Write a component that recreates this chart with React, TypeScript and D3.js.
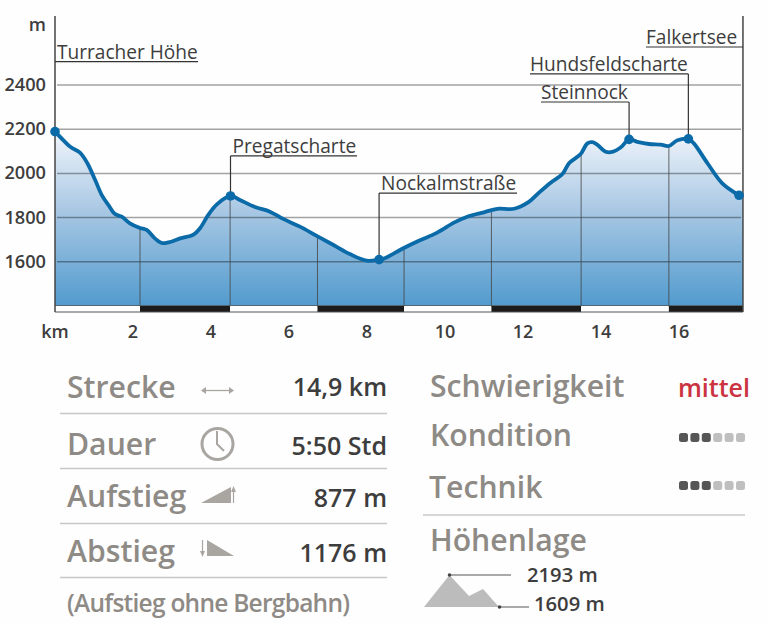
import React from "react";
import * as d3 from "d3";

const width = 767;
const height = 624;

// km along the route
const distKm = [0, 0.21, 0.4, 0.64, 0.83, 1.03, 1.2, 1.37, 1.54, 1.71, 1.92, 2.18, 2.35, 2.56, 2.74, 2.91, 3.21, 3.55, 3.72, 3.93, 4.15, 4.5, 4.74, 5.13, 5.51, 5.85, 6.28, 6.71, 7.14, 7.56, 7.99, 8.31, 8.44, 8.93, 9.33, 9.8, 10.23, 10.57, 11.0, 11.34, 11.77, 12.15, 12.41, 12.71, 13.01, 13.18, 13.48, 13.65, 13.78, 13.91, 14.12, 14.29, 14.51, 14.72, 14.93, 15.23, 15.53, 15.74, 15.96, 16.24, 16.38, 16.73, 17.11, 17.54];
// elevation in m
const elevation = [2189, 2151, 2119, 2094, 2046, 1970, 1902, 1857, 1816, 1804, 1774, 1753, 1744, 1706, 1685, 1688, 1706, 1723, 1752, 1812, 1860, 1898, 1880, 1848, 1827, 1794, 1759, 1717, 1676, 1635, 1605, 1610, 1615, 1661, 1695, 1732, 1777, 1804, 1824, 1840, 1840, 1871, 1913, 1958, 1997, 2046, 2088, 2136, 2141, 2129, 2098, 2097, 2118, 2154, 2143, 2133, 2130, 2124, 2150, 2156, 2136, 2046, 1955, 1901];

const yTicks = [2400, 2200, 2000, 1800, 1600];
const xTicks = [2, 4, 6, 8, 10, 12, 14, 16];
// boundaries of the alternating distance bar
const segmentKm = [0, 2.18, 4.49, 6.73, 8.95, 11.19, 13.49, 15.74, 17.64];

const pointNames = ["Turracher Höhe", "Pregatscharte", "Nockalmstraße", "Steinnock", "Hundsfeldscharte", "Falkertsee"];
const pointKm = [0, 4.5, 8.31, 14.72, 16.24, 17.54];
const pointM = [2189, 1898, 1610, 2154, 2156, 1901];
const labelLevel = [2506, 2079, 1911, 2323, 2450, 2572];

const statNames = ["Strecke", "Dauer", "Aufstieg", "Abstieg"];
const statValues = ["14,9 km", "5:50 Std", "877 m", "1176 m"];

const ratingNames = ["Kondition", "Technik"];
const ratingValues = [3, 3];
const altitudeValues = ["2193 m", "1609 m"];

const FONT = "'Open Sans', sans-serif";
const GREY = "#8e8a85";
const DARK = "#3d3d3d";
const BLUE = "#0b6aa8";

// elevation at a given km, read between the two nearest profile points
function elevationAt(km: number) {
  const i = d3.bisectLeft(distKm, km);
  const t = (km - distKm[i - 1]) / (distKm[i] - distKm[i - 1]);
  return elevation[i - 1] + t * (elevation[i] - elevation[i - 1]);
}

export default function App() {
  const x = d3.scaleLinear().domain([0, 16]).range([55, 679]);
  const y = d3.scaleLinear().domain([1400, 2400]).range([306, 85]);
  const xEnd = x(17.64);

  const profile = distKm.map((d, i) => [d, elevation[i]] as [number, number]);
  const line = d3
    .line<[number, number]>()
    .x(d => x(d[0]))
    .y(d => y(d[1]))
    .curve(d3.curveCatmullRom.alpha(0.5));
  const area = d3
    .area<[number, number]>()
    .x(d => x(d[0]))
    .y0(y(1400))
    .y1(d => y(d[1]))
    .curve(d3.curveCatmullRom.alpha(0.5));
  const closed: [number, number][] = [...profile, [17.64, 1890]];

  const underline = [
    [x(0), 198],
    [x(4.5), 357],
    [x(8.31), 517],
    [541, x(14.72)],
    [530, x(16.24)],
    [646, xEnd],
  ];

  return (
    <svg width={width} height={height} style={{ position: "absolute", left: 0, top: 0, display: "block" }} fontFamily={FONT}>
      <defs>
        <linearGradient id="fill" x1="0" x2="0" y1="0" y2="1">
          <stop offset="0" stopColor="#f1f5fb" />
          <stop offset="0.45" stopColor="#a9c8e4" />
          <stop offset="1" stopColor="#529bce" />
        </linearGradient>
      </defs>
      <rect width={width} height={height} fill="#fefefe" />

      <path d={area(closed) || ""} fill="url(#fill)" />

      {yTicks.map(t => (
        <g key={t}>
          <line x1={57} x2={741} y1={y(t)} y2={y(t)} stroke="#000" strokeOpacity={0.36} strokeWidth={1.5} />
          <text x={46} y={y(t) + 6} textAnchor="end" fontSize={18.2} fontWeight={600} fill={DARK}>
            {t}
          </text>
        </g>
      ))}
      <text x={46} y={31} textAnchor="end" fontSize={18} fontWeight={600} fill={DARK}>
        m
      </text>

      {segmentKm.slice(1, -1).map(k => (
        <line key={k} x1={x(k)} x2={x(k)} y1={y(elevationAt(k))} y2={y(1400)} stroke="#444" strokeOpacity={0.8} strokeWidth={1} />
      ))}
      <line x1={55} x2={xEnd} y1={y(1400)} y2={y(1400)} stroke="#555" strokeWidth={1.5} />
      {segmentKm.slice(0, -1).map((k, i) => (
        <rect key={k} x={x(k)} width={x(segmentKm[i + 1]) - x(k)} y={306} height={6} fill={i % 2 ? "#1b1b1b" : "#fff"} />
      ))}
      <line x1={55} x2={xEnd} y1={312} y2={312} stroke="#555" strokeWidth={1} />
      <line x1={55} x2={55} y1={16} y2={312} stroke="#444" strokeWidth={1.5} />
      <line x1={xEnd} x2={xEnd} y1={16} y2={312} stroke="#444" strokeWidth={1.5} />

      <path d={line(profile) || ""} fill="none" stroke={BLUE} strokeWidth={3.8} strokeLinejoin="round" />

      {pointNames.map((name, i) => {
        const level = y(labelLevel[i]);
        const [x0, x1] = underline[i];
        const stem = i === 5 ? null : x(pointKm[i]);
        return (
          <g key={name}>
            <path
              d={`M${x0},${level}H${x1}` + (stem !== null && i > 0 ? `M${stem},${level}V${y(pointM[i])}` : "")}
              fill="none"
              stroke="#333"
              strokeWidth={1.2}
            />
            <text x={x0 + (i < 3 ? 2 : 0)} y={level - 3} fontSize={19.1} fontWeight={500} fill={DARK}>
              {name}
            </text>
            <circle cx={x(pointKm[i])} cy={y(pointM[i])} r={4.8} fill={BLUE} />
          </g>
        );
      })}

      <text x={55} y={338} textAnchor="middle" fontSize={18} fontWeight={600} fill={DARK}>
        km
      </text>
      {xTicks.map(t => (
        <text key={t} x={x(t)} y={338} textAnchor="middle" fontSize={18} fontWeight={600} fill={DARK}>
          {t}
        </text>
      ))}

      {statNames.map((name, i) => (
        <g key={name}>
          <text x={67} y={[398, 455, 507, 562][i]} fontSize={30.2} fontWeight={600} fill={GREY}>
            {name}
          </text>
          <text x={387} y={[396, 455, 507, 562][i]} textAnchor="end" fontSize={25} fontWeight={600} fill={DARK}>
            {statValues[i]}
          </text>
          <line x1={60} x2={387} y1={[413.5, 468.5, 523.5, 577.5][i]} y2={[413.5, 468.5, 523.5, 577.5][i]} stroke="#c8c8c8" strokeWidth={1.5} />
        </g>
      ))}
      <text x={67} y={612} fontSize={24.5} fontWeight={600} letterSpacing={-0.75} fill={GREY}>
        (Aufstieg ohne Bergbahn)
      </text>

      {/* small icons */}
      <g stroke="#a9a6a2" fill="#a9a6a2">
        <path d="M202,390.5H233" strokeWidth={1.3} />
        <path d="M206,387L201,390.5L206,394ZM229,387L234,390.5L229,394Z" stroke="none" />
        <circle cx={217.5} cy={444} r={15.5} fill="none" strokeWidth={3} />
        <path d="M217,431V444L224,451" fill="none" strokeWidth={2} />
        <path d="M201,503L231,487V503Z" stroke="none" />
        <path d="M233.5,503V490" strokeWidth={1.2} />
        <path d="M231,492L233.5,486L236,492Z" stroke="none" />
        <path d="M207,540V556L234,556Z" stroke="none" />
        <path d="M202.5,540V553" strokeWidth={1.2} />
        <path d="M200,551L202.5,557L205,551Z" stroke="none" />
      </g>

      <text x={430} y={397} fontSize={30.2} fontWeight={600} fill={GREY}>
        Schwierigkeit
      </text>
      <text x={750} y={397} textAnchor="end" fontSize={25} fontWeight={600} fill="#cb3340">
        mittel
      </text>
      {ratingNames.map((name, i) => (
        <g key={name}>
          <text x={i ? 429 : 430} y={[446, 498][i]} fontSize={30.2} fontWeight={600} fill={GREY}>
            {name}
          </text>
          {d3.range(6).map(j => (
            <rect key={j} x={679 + j * 11.4} y={[433, 481][i]} width={9} height={9} rx={2.5} fill={j < ratingValues[i] ? "#565656" : "#bfbfbf"} />
          ))}
        </g>
      ))}
      <line x1={423} x2={745} y1={515} y2={515} stroke="#c8c8c8" strokeWidth={1.5} />
      <text x={430} y={551} fontSize={30.2} fontWeight={600} fill={GREY}>
        Höhenlage
      </text>
      <path d="M424,607L449.5,575L469,596L483,589L499,607Z" fill="#bcbcbc" />
      <path d="M449.5,575H511M499,607H529" stroke="#555" strokeWidth={1.2} fill="none" />
      <circle cx={449.5} cy={575} r={1.8} fill="#444" />
      <circle cx={499.5} cy={607} r={1.8} fill="#444" />
      <text x={527} y={582} fontSize={20.2} fontWeight={600} fill={DARK}>
        {altitudeValues[0]}
      </text>
      <text x={534} y={611} fontSize={20.2} fontWeight={600} fill={DARK}>
        {altitudeValues[1]}
      </text>
    </svg>
  );
}
